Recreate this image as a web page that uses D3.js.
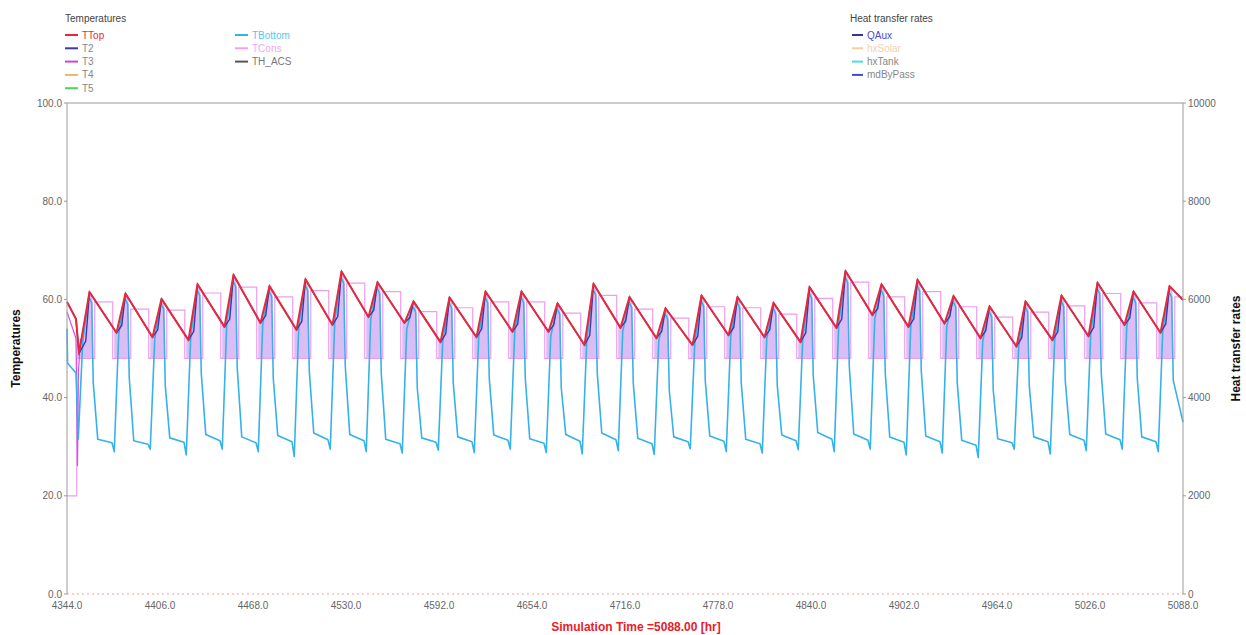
<!DOCTYPE html>
<html>
<head>
<meta charset="utf-8">
<script src="https://cdn.jsdelivr.net/npm/d3@7"></script>
<style>
  html, body { margin: 0; padding: 0; background: #ffffff; }
  svg { display: block; font-family: "Liberation Sans", Arial, sans-serif; }
</style>
</head>
<body>
<svg id="chart" width="1246" height="635"></svg>
<script>
// ---------------- DATA ----------------
const xTickLabels = [4344, 4406, 4468, 4530, 4592, 4654, 4716, 4778, 4840, 4902, 4964, 5026, 5088];
const yLeftTicks = [0, 20, 40, 60, 80, 100];
const yRightTicks = [0, 2000, 4000, 6000, 8000, 10000];

const tempLegend = ["TTop", "T2", "T3", "T4", "T5", "TBottom", "TCons", "TH_ACS"];
const heatLegend = ["QAux", "hxSolar", "hxTank", "mdByPass"];

// TTop: first hours, then one minimum (~09h) and one maximum (~15h) per day
const ttopStart = [[4344, 59.5], [4350, 56.0], [4352, 49.0]];
const ttopPeak = [61.5, 61.2, 60.1, 63.1, 65.0, 62.7, 64.1, 65.7, 63.5, 59.6,
                  60.4, 61.6, 61.6, 59.2, 63.2, 60.5, 58.2, 60.8, 60.5, 59.3,
                  62.5, 65.8, 63.1, 64.0, 60.7, 58.6, 59.6, 60.8, 63.4, 61.6, 62.7];
const ttopMin = [53.2, 52.3, 51.7, 54.4, 55.2, 53.8, 54.8, 56.4, 55.2, 51.3,
                 52.3, 53.4, 53.4, 50.7, 54.2, 52.1, 50.7, 52.7, 52.3, 51.3,
                 54.2, 56.8, 54.4, 55.1, 52.1, 50.4, 51.7, 52.5, 54.8, 53.2];
const ttopEnd = [5088, 59.9];

// T2: lags TTop on the morning rise (value ~12.5h)
const t2Lag = [51.5, 54.7, 53.8, 53.5, 56.0, 56.7, 55.5, 56.5, 57.8, 56.3,
               53.0, 54.0, 55.0, 54.8, 52.7, 55.6, 53.5, 52.5, 54.3, 53.8,
               53.2, 56.0, 58.1, 56.0, 56.5, 53.6, 52.2, 53.4, 54.3, 56.2, 55.0];

// T3: visible only at the start of the period
const t3Start = [[4344, 57.5], [4350, 52.0], [4351, 26.0], [4351.6, 45.0], [4353, 52.0]];

// TBottom: first hours, then per day: rise, peak, hold, drop, night, late night, next-morning dip
const tbotStart = [[4344, 54.0], [4344.4, 47.0], [4350, 45.0], [4351.5, 31.5]];
const tbotRise = [51.5, 53.0, 52.0, 52.5, 55.0, 55.0, 54.5, 55.5, 56.0, 54.0,
                  51.5, 52.5, 53.5, 52.5, 51.5, 53.5, 51.5, 51.0, 52.5, 52.0,
                  52.0, 55.0, 56.0, 54.5, 54.5, 51.5, 50.5, 52.0, 53.0, 54.5, 53.5];
const tbotPeak = [60.5, 60.2, 59.2, 62.0, 63.8, 61.7, 63.0, 64.5, 62.4, 58.6,
                  59.4, 60.5, 60.5, 58.2, 62.1, 59.5, 57.2, 59.8, 59.5, 58.3,
                  61.4, 64.6, 62.0, 62.9, 59.7, 57.6, 58.6, 59.8, 62.3, 60.5, 61.6];
const tbotHold = [59.3, 59.0, 58.0, 60.8, 62.6, 60.5, 61.8, 63.3, 61.2, 57.4,
                  58.2, 59.3, 59.3, 57.0, 60.9, 58.3, 56.0, 58.6, 58.3, 57.1,
                  60.2, 63.4, 60.8, 61.7, 58.5, 56.4, 57.4, 58.6, 61.1, 59.3, 60.4];
const tbotDrop = [43.0, 44.0, 42.5, 45.0, 46.0, 44.0, 45.5, 46.5, 45.0, 42.0,
                  43.0, 44.0, 44.0, 42.0, 45.0, 43.0, 41.5, 43.5, 43.0, 42.5,
                  44.5, 46.5, 45.0, 45.5, 43.0, 41.5, 42.5, 43.5, 45.0, 44.0, 43.5];
const tbotNight = [31.5, 31.2, 31.8, 32.5, 32.0, 32.3, 32.8, 32.5, 31.5, 31.8,
                   32.0, 32.4, 31.6, 32.5, 32.8, 31.7, 32.0, 32.2, 31.5, 32.4,
                   32.9, 32.6, 32.0, 32.2, 31.3, 31.6, 32.0, 32.5, 32.6, 32.0];
const tbotLate = [30.8, 30.5, 30.9, 31.2, 30.8, 31.0, 31.4, 31.2, 30.6, 30.9,
                  31.0, 31.3, 30.7, 31.1, 31.4, 30.6, 31.0, 31.1, 30.6, 31.2,
                  31.5, 31.3, 30.9, 31.0, 30.3, 30.8, 31.0, 31.3, 31.4, 31.0];
const tbotDip = [29.0, 29.5, 28.3, 29.5, 29.0, 28.0, 29.5, 29.0, 28.7, 29.3,
                 28.8, 29.5, 28.8, 28.5, 29.2, 28.4, 29.6, 29.0, 28.7, 29.4,
                 29.0, 29.5, 28.3, 28.7, 27.8, 29.5, 28.5, 29.2, 29.5, 29.0];
const tbotEnd = [5088, 35.0];

// TCons: starts at 20, then evening/night plateau per day, base level 48 during draws
const tconsStart = [[4344, 20.0], [4350.5, 20.0], [4350.5, 48.0]];
const tconsBase = 48.0;
const tconsTop = [59.5, 58.0, 57.8, 61.3, 62.5, 60.5, 61.8, 63.3, 61.6, 57.5,
                  58.3, 59.5, 59.5, 57.2, 60.8, 58.0, 56.2, 58.5, 58.3, 57.0,
                  60.2, 63.5, 60.5, 61.6, 58.5, 56.4, 57.4, 58.7, 61.2, 59.3, 60.5];

// Heat transfer rates: all stay at zero over the period
const heatRate = [[4344, 0], [5088, 0]];

// ---------------- BUILD SERIES ----------------
const t0 = 4344, nDays = ttopPeak.length;
const at = (d, h) => t0 + 24 * d + h;

const ttop = ttopStart.slice();
for (let d = 0; d < nDays; d++) {
  if (d > 0) ttop.push([at(d, 9), ttopMin[d - 1]]);
  ttop.push([at(d, 15), ttopPeak[d]]);
}
ttop.push(ttopEnd);

const t2 = ttopStart.slice();
for (let d = 0; d < nDays; d++) {
  if (d > 0) t2.push([at(d, 9), ttopMin[d - 1]]);
  t2.push([at(d, 12.5), t2Lag[d]]);
  t2.push([at(d, 15), ttopPeak[d]]);
}
t2.push(ttopEnd);

const tbot = tbotStart.slice();
for (let d = 0; d < nDays; d++) {
  tbot.push([at(d, 10.5), tbotRise[d]]);
  tbot.push([at(d, 14.5), tbotPeak[d]]);
  tbot.push([at(d, 16.5), tbotHold[d]]);
  tbot.push([at(d, 17.5), tbotDrop[d]]);
  if (d < nDays - 1) {
    tbot.push([at(d, 20.5), tbotNight[d]]);
    tbot.push([at(d, 30), tbotLate[d]]);
    tbot.push([at(d, 31.5), tbotDip[d]]);
  }
}
tbot.push(tbotEnd);

const tcons = tconsStart.slice();
for (let d = 0; d < nDays; d++) {
  tcons.push([at(d, 16.5), tconsBase]);
  tcons.push([at(d, 18.5), tconsBase]);
  tcons.push([at(d, 18.5), tconsTop[d]]);
  if (d < nDays - 1) {
    tcons.push([at(d, 30.5), tconsTop[d]]);
    tcons.push([at(d, 30.5), tconsBase]);
  } else {
    tcons.push([5088, tconsTop[d]]);
  }
}
// draw-period bands (rapid TCons switching) per day
const bands = d3.range(nDays).map(d => [at(d, d === 0 ? 6.5 : 7.5), at(d, 17)]);

// ---------------- DRAW ----------------
const svg = d3.select("#chart");
const x = d3.scaleLinear().domain([4344, 5088]).range([67, 1183]);
const yL = d3.scaleLinear().domain([0, 100]).range([594, 103]);
const yR = d3.scaleLinear().domain([0, 10000]).range([594, 103]);

const line = d3.line().x(p => x(p[0])).y(p => yL(p[1]));

// clip: area below TTop
svg.append("clipPath").attr("id", "belowTop")
  .append("path")
  .attr("d", d3.area().x(p => x(p[0])).y0(yL(0)).y1(p => yL(p[1]))(ttop));

svg.append("g").attr("clip-path", "url(#belowTop)")
  .selectAll("rect").data(bands).join("rect")
  .attr("x", b => x(b[0])).attr("width", b => x(b[1]) - x(b[0]))
  .attr("y", yL(100)).attr("height", yL(tconsBase) - yL(100))
  .attr("fill", "#dcbcf4");

// heat-rate zero line
svg.append("path").attr("d", d3.line().x(p => x(p[0])).y(p => yR(p[1]))(heatRate))
  .attr("fill", "none").attr("stroke", "#f29a9a").attr("stroke-width", 1)
  .attr("stroke-dasharray", "2,3");

svg.append("path").attr("d", line(tcons)).attr("fill", "none")
  .attr("stroke", "#f09cf0").attr("stroke-width", 1.2);
svg.append("path").attr("d", line(t3Start)).attr("fill", "none")
  .attr("stroke", "#d050e0").attr("stroke-width", 1.2);
svg.append("path").attr("d", line(tbot)).attr("fill", "none")
  .attr("stroke", "#36b2ea").attr("stroke-width", 1.6).attr("stroke-linejoin", "round");
svg.append("path").attr("d", line(t2)).attr("fill", "none")
  .attr("stroke", "#3a3aa8").attr("stroke-width", 1.4);
svg.append("path").attr("d", line(ttop)).attr("fill", "none")
  .attr("stroke", "#e42a3c").attr("stroke-width", 2).attr("stroke-linejoin", "round");

// axes frame
const axisColor = "#9a9a9a";
svg.append("line").attr("x1", x(4344)).attr("x2", x(5088)).attr("y1", yL(100)).attr("y2", yL(100))
  .attr("stroke", axisColor);
svg.append("line").attr("x1", x(4344)).attr("x2", x(4344)).attr("y1", yL(100)).attr("y2", yL(0))
  .attr("stroke", axisColor);
svg.append("line").attr("x1", x(5088)).attr("x2", x(5088)).attr("y1", yL(100)).attr("y2", yL(0))
  .attr("stroke", axisColor);

const fmt1 = d3.format(".1f");
const gl = svg.append("g");
gl.selectAll("line").data(yLeftTicks).join("line")
  .attr("x1", x(4344) - 3).attr("x2", x(4344)).attr("y1", d => yL(d)).attr("y2", d => yL(d))
  .attr("stroke", axisColor);
gl.selectAll("text").data(yLeftTicks).join("text")
  .attr("x", x(4344) - 5).attr("y", d => yL(d) + 3.5).attr("text-anchor", "end")
  .attr("font-size", 10).attr("fill", "#666").text(d => fmt1(d));

const gr = svg.append("g");
gr.selectAll("line").data(yRightTicks).join("line")
  .attr("x1", x(5088)).attr("x2", x(5088) + 3).attr("y1", d => yR(d)).attr("y2", d => yR(d))
  .attr("stroke", axisColor);
gr.selectAll("text").data(yRightTicks).join("text")
  .attr("x", x(5088) + 5).attr("y", d => yR(d) + 3.5).attr("text-anchor", "start")
  .attr("font-size", 10).attr("fill", "#666").text(d => d);

svg.append("g").selectAll("text").data(xTickLabels).join("text")
  .attr("x", d => x(d)).attr("y", 609).attr("text-anchor", "middle")
  .attr("font-size", 10).attr("fill", "#666").text(d => fmt1(d));

svg.append("text").attr("x", 636).attr("y", 631).attr("text-anchor", "middle")
  .attr("font-size", 12).attr("font-weight", "bold").attr("fill", "#e8202a")
  .text("Simulation Time =5088.00 [hr]");

svg.append("text").attr("transform", `translate(20,${(yL(0) + yL(100)) / 2}) rotate(-90)`)
  .attr("text-anchor", "middle").attr("font-size", 12).attr("font-weight", "bold")
  .attr("fill", "#111").text("Temperatures");
svg.append("text").attr("transform", `translate(1240,${(yL(0) + yL(100)) / 2}) rotate(-90)`)
  .attr("text-anchor", "middle").attr("font-size", 12).attr("font-weight", "bold")
  .attr("fill", "#111").text("Heat transfer rates");

// ---------------- LEGENDS ----------------
const tempLineColors = ["#e42a3c", "#3a3aa8", "#cc44dd", "#e8b870", "#44dd55", "#36b2ea", "#f0a0f0", "#555555"];
const tempTextColors = ["#e42a3c", "#888", "#888", "#888", "#888", "#55c8f2", "#f0a8f0", "#777"];
const tempPos = tempLegend.map((n, i) => i < 5 ? [65, 35 + i * 13.3] : [235, 35 + (i - 5) * 13.3]);

svg.append("text").attr("x", 65).attr("y", 22).attr("font-size", 10).attr("fill", "#444").text("Temperatures");
const tl = svg.append("g").selectAll("g").data(tempLegend).join("g")
  .attr("transform", (d, i) => `translate(${tempPos[i][0]},${tempPos[i][1]})`);
tl.append("line").attr("x1", 0).attr("x2", 13).attr("y1", 0).attr("y2", 0)
  .attr("stroke", (d, i) => tempLineColors[i]).attr("stroke-width", 2);
tl.append("text").attr("x", 17).attr("y", 3.5).attr("font-size", 10)
  .attr("fill", (d, i) => tempTextColors[i]).text(d => d);

const heatLineColors = ["#34349c", "#f8d0a0", "#4adce6", "#4646d6"];
const heatTextColors = ["#4a4ad0", "#f4d0b0", "#888", "#888"];
svg.append("text").attr("x", 850).attr("y", 22).attr("font-size", 10).attr("fill", "#444").text("Heat transfer rates");
const hl = svg.append("g").selectAll("g").data(heatLegend).join("g")
  .attr("transform", (d, i) => `translate(852,${35 + i * 13.3})`);
hl.append("line").attr("x1", 0).attr("x2", 11).attr("y1", 0).attr("y2", 0)
  .attr("stroke", (d, i) => heatLineColors[i]).attr("stroke-width", 2);
hl.append("text").attr("x", 15).attr("y", 3.5).attr("font-size", 10)
  .attr("fill", (d, i) => heatTextColors[i]).text(d => d);
</script>
</body>
</html>
